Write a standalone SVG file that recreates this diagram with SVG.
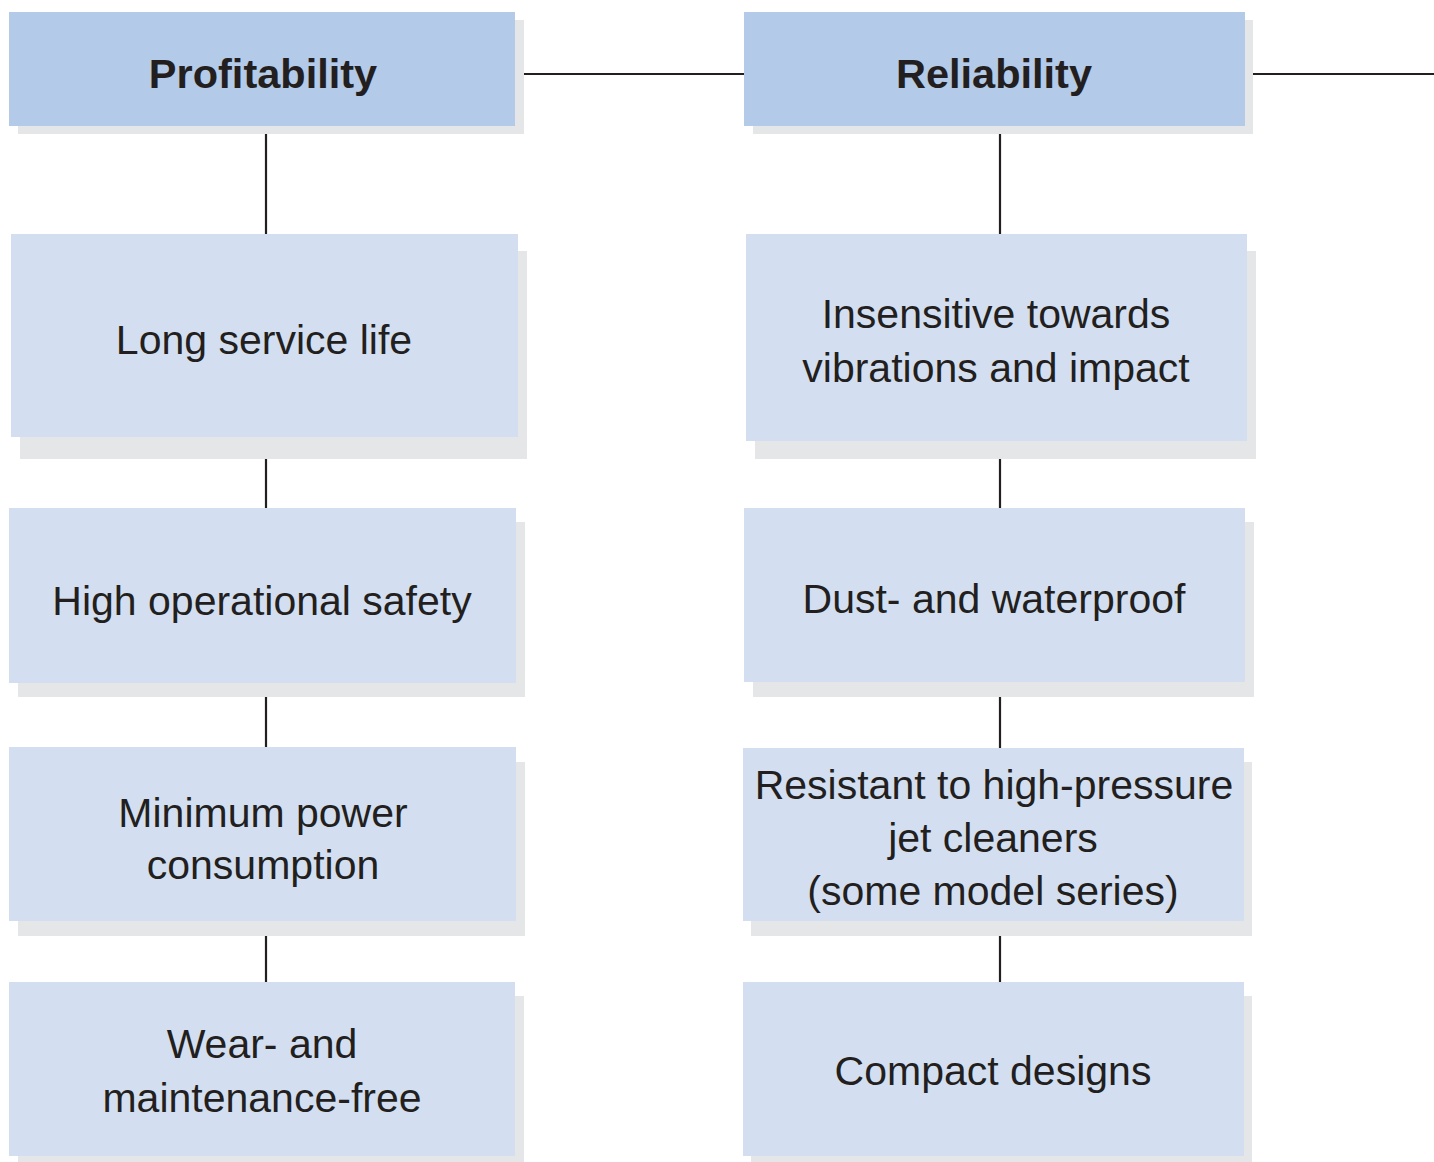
<svg xmlns="http://www.w3.org/2000/svg" width="1434" height="1162" viewBox="0 0 1434 1162">
<style>
.shadow{fill:#e5e6e8}
.head{fill:#b3cae8}
.box{fill:#d3dff0}
.ht{font-family:"Liberation Sans",Arial,sans-serif;font-weight:bold;font-size:41.5px;fill:#231f20;text-anchor:middle}
.t{font-family:"Liberation Sans",Arial,sans-serif;font-size:41px;fill:#231f20;text-anchor:middle}
.conn line{stroke:#231f20;stroke-width:2.2}
</style>
<rect width="1434" height="1162" fill="#ffffff"/>
<g id="connectors" class="conn">
<line x1="524" y1="74" x2="744" y2="74"/>
<line x1="1253" y1="74" x2="1434" y2="74"/>
<line x1="266" y1="134" x2="266" y2="234"/>
<line x1="266" y1="459" x2="266" y2="508"/>
<line x1="266" y1="697" x2="266" y2="747"/>
<line x1="266" y1="936" x2="266" y2="982"/>
<line x1="1000" y1="134" x2="1000" y2="234"/>
<line x1="1000" y1="459" x2="1000" y2="508"/>
<line x1="1000" y1="697" x2="1000" y2="748"/>
<line x1="1000" y1="936" x2="1000" y2="982"/>
</g>
<g id="profitability">
<rect class="shadow" x="18" y="20" width="506" height="114"/>
<rect class="head" x="9" y="12" width="506" height="114"/>
<text class="ht" x="263" y="88">Profitability</text>
</g>
<g id="reliability">
<rect class="shadow" x="753" y="20" width="500" height="114"/>
<rect class="head" x="744" y="12" width="501" height="114"/>
<text class="ht" x="994" y="88">Reliability</text>
</g>
<g id="long-service-life">
<rect class="shadow" x="20" y="251" width="507" height="208"/>
<rect class="box" x="11" y="234" width="507" height="203"/>
<text class="t" x="264" y="354">Long service life</text>
</g>
<g id="high-operational-safety">
<rect class="shadow" x="18" y="522" width="507" height="175"/>
<rect class="box" x="9" y="508" width="507" height="175"/>
<text class="t" x="262" y="615">High operational safety</text>
</g>
<g id="minimum-power">
<rect class="shadow" x="18" y="762" width="507" height="174"/>
<rect class="box" x="9" y="747" width="507" height="174"/>
<text class="t" x="263" y="827">Minimum power</text>
<text class="t" x="263" y="879">consumption</text>
</g>
<g id="wear-maintenance">
<rect class="shadow" x="18" y="996" width="506" height="166"/>
<rect class="box" x="9" y="982" width="506" height="174"/>
<text class="t" x="262" y="1058">Wear- and</text>
<text class="t" x="262" y="1112">maintenance-free</text>
</g>
<g id="insensitive">
<rect class="shadow" x="755" y="251" width="501" height="208"/>
<rect class="box" x="746" y="234" width="501" height="207"/>
<text class="t" x="996" y="328">Insensitive towards</text>
<text class="t" x="996" y="382">vibrations and impact</text>
</g>
<g id="dust-waterproof">
<rect class="shadow" x="753" y="522" width="501" height="175"/>
<rect class="box" x="744" y="508" width="501" height="174"/>
<text class="t" x="994" y="613">Dust- and waterproof</text>
</g>
<g id="resistant">
<rect class="shadow" x="751" y="762" width="501" height="174"/>
<rect class="box" x="743" y="748" width="501" height="173"/>
<text class="t" x="994" y="799">Resistant to high-pressure</text>
<text class="t" x="993" y="852">jet cleaners</text>
<text class="t" x="993" y="905">(some model series)</text>
</g>
<g id="compact-designs">
<rect class="shadow" x="751" y="996" width="501" height="166"/>
<rect class="box" x="743" y="982" width="501" height="174"/>
<text class="t" x="993" y="1085">Compact designs</text>
</g>
</svg>
